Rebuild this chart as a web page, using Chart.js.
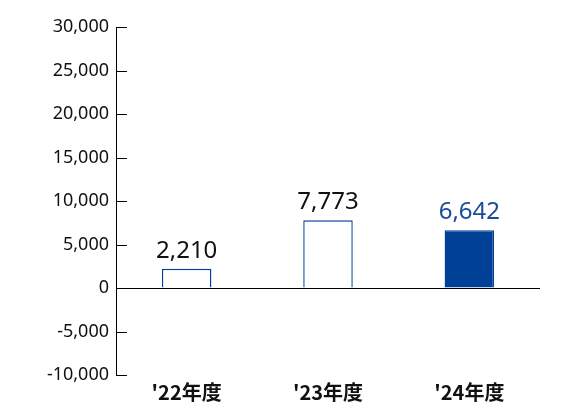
<!DOCTYPE html>
<html>
<head>
<meta charset="utf-8">
<script src="https://cdn.jsdelivr.net/npm/chart.js@4"></script>
<style>
  html, body { margin: 0; padding: 0; background: #fff; }
  #wrap { width: 580px; height: 420px; }
</style>
</head>
<body>
<div id="wrap"><canvas id="chart"></canvas></div>
<script>
var categories = ["'22年度", "'23年度", "'24年度"];
var values = [2210, 7773, 6642];
var yTicks = [30000, 25000, 20000, 15000, 10000, 5000, 0, -5000, -10000];

var blue = '#004097';
var numFont = '"Noto Sans", sans-serif';
var jpFont = '"Noto Sans CJK JP", "Noto Sans", sans-serif';

// short tick marks drawn to the right of the y axis
var innerTicks = {
    id: 'innerTicks',
    afterDraw: function(chart) {
        var ctx = chart.ctx;
        var y = chart.scales.y;
        ctx.save();
        ctx.strokeStyle = '#000';
        ctx.lineWidth = 1;
        yTicks.forEach(function(v) {
            var py = Math.round(y.getPixelForValue(v)) + 0.5;
            ctx.beginPath();
            ctx.moveTo(y.right, py);
            ctx.lineTo(y.right + 11, py);
            ctx.stroke();
        });
        ctx.restore();
    }
};

// numbers above the bars
var barLabels = {
    id: 'barLabels',
    afterDatasetsDraw: function(chart) {
        var ctx = chart.ctx;
        var meta = chart.getDatasetMeta(0);
        ctx.save();
        ctx.font = '24px ' + numFont;
        ctx.textAlign = 'center';
        ctx.textBaseline = 'alphabetic';
        meta.data.forEach(function(bar, i) {
            ctx.fillStyle = i === values.length - 1 ? '#1a4a99' : '#111';
            ctx.fillText(values[i].toLocaleString('en-US'), bar.x, bar.y - 11);
        });
        ctx.restore();
    }
};

new Chart(document.getElementById('chart'), {
    type: 'bar',
    data: {
        labels: categories,
        datasets: [{
            data: values,
            backgroundColor: ['#fff', '#fff', blue],
            borderColor: blue,
            borderWidth: 1.4,
            barPercentage: 0.35,
            categoryPercentage: 1
        }]
    },
    options: {
        responsive: true,
        maintainAspectRatio: false,
        animation: false,
        layout: { padding: { top: 27, right: 40, bottom: 0, left: 0 } },
        plugins: { legend: { display: false }, tooltip: { enabled: false } },
        scales: {
            x: {
                afterFit: function(scale) { scale.height = 45; },
                grid: { display: false, drawTicks: false },
                border: { display: false },
                ticks: {
                    color: '#111',
                    padding: 5,
                    font: { family: jpFont, size: 20, weight: 'bold' }
                }
            },
            y: {
                min: -10000,
                max: 30000,
                afterBuildTicks: function(scale) {
                    scale.ticks = yTicks.map(function(v) { return { value: v }; });
                },
                afterFit: function(scale) { scale.width = 116; },
                grid: {
                    drawTicks: false,
                    color: function(c) { return c.tick && c.tick.value === 0 ? '#000' : 'rgba(0,0,0,0)'; },
                    lineWidth: 1
                },
                border: { display: true, color: '#000', width: 1 },
                ticks: {
                    color: '#111',
                    padding: 7,
                    font: { family: numFont, size: 18 },
                    callback: function(v) { return Number(v).toLocaleString('en-US'); }
                }
            }
        }
    },
    plugins: [innerTicks, barLabels]
});
</script>
</body>
</html>
